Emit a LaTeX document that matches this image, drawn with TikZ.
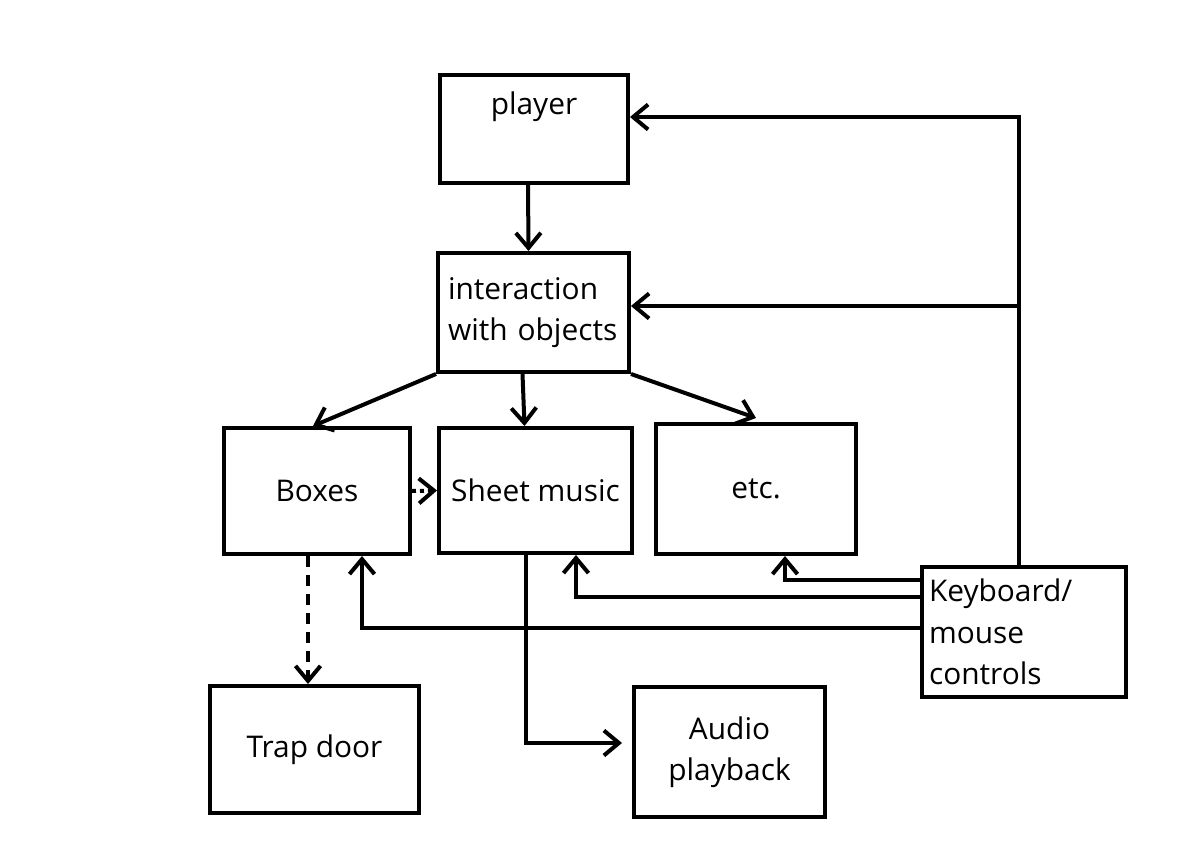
\documentclass[tikz,border=0pt]{standalone}
\usepackage{fontspec}
\setmainfont{Open Sans}
\usetikzlibrary{arrows.meta,calc}
\tikzset{
  box/.style={draw, line width=0.8mm, inner sep=0pt, align=center},
  conn/.style={line width=0.8mm, -{Straight Barb[length=3mm,width=5mm]}},
  dotconn/.style={conn, dash pattern=on 0.08cm off 0.08cm},
  dashconn/.style={conn, dash pattern=on 0.22cm off 0.16cm}
}

\begin{document}
\begin{tikzpicture}[x=0.02cm, y=-0.02cm, font=\fontsize{17}{23.5}\selectfont]
			%%%%% START %%%%%
			
			\useasboundingbox (0,0) rectangle (1195,854);
			
			\node[box, minimum width=3.76cm, text height=0.8cm, text depth=1.36cm, anchor=base] (player) at (534,115) {player};
			\node[box, minimum width=3.82cm, minimum height=2.38cm, text width=3.42cm, align=left] (inter) at (533.5,312.5) {interaction\\with objects};
			
			\node[box, minimum width=3.72cm, minimum height=2.52cm] (boxes) at (317,491) {Boxes};
			\node[box, minimum width=3.86cm, minimum height=2.5cm] (sheet) at (535.5,490.5) {Sheet music};
			\node[box, minimum width=4cm, minimum height=2.6cm] (etc) at (756,489) {etc.};
			
			\node[box, minimum width=4.08cm, minimum height=2.6cm, inner xsep=0.14cm, text width=3.8cm, align=left] (keys) at (1024,632) {Keyboard/\\mouse\\controls};
			
			\node[box, minimum width=4.18cm, minimum height=2.54cm] (trap) at (314.5,749.5) {Trap door};
			\node[box, minimum width=3.82cm, minimum height=2.6cm] (audio) at (729.5,752) {Audio\\playback};
			
			\coordinate (up) at ([xshift=-0.1cm]keys.north);
			\coordinate (split) at (up |- 0,306);
			
			\draw[conn] ([xshift=-0.12cm]player.south) -- ([xshift=-0.1cm]inter.north);
			\draw[conn] (up) |- ([yshift=0.24cm]player.east);
			\draw[conn] (split) -- (split -| inter.east);
			
			\draw[conn] (inter.south west) -- ([xshift=-0.08cm]boxes.north);
			\draw[conn] ([xshift=-0.22cm]inter.south) -- ([xshift=-0.22cm]sheet.north);
			\draw[conn] (inter.south east) -- ([yshift=0.08cm]etc.north);
			
			\draw[dotconn] (boxes.east) -- (sheet.west);
			\draw[dashconn] ([xshift=-0.18cm]boxes.south) -- ([xshift=-0.18cm]boxes.south |- trap.north);
			\draw[conn] ([xshift=-0.19cm]sheet.south) |- ([xshift=-0.2cm,yshift=0.18cm]audio.west);
			
			\draw[conn] ([yshift=1.04cm]keys.west) -| ([xshift=0.58cm]etc.south);
			\draw[conn] ([yshift=0.7cm]keys.west) -| ([xshift=0.81cm]sheet.south);
			\draw[conn] ([yshift=0.08cm]keys.west) -| ([xshift=0.9cm]boxes.south);
			
			%%%%% END %%%%%
\end{tikzpicture}
\end{document}
